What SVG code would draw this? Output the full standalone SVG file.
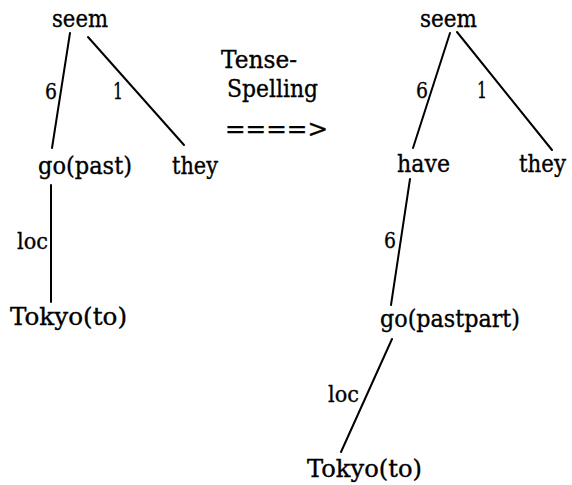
<svg xmlns="http://www.w3.org/2000/svg" width="572" height="485" viewBox="0 0 572 485">
  <style>
    text { font-family: 'DejaVu Serif', serif; fill: #000; stroke: #000; stroke-width: 0.35px; }
    .node { font-size: 24px; }
    .lbl { font-size: 23px; }
    .edge { stroke: #000; stroke-width: 2; stroke-linecap: round; fill: none; }
  </style>
  <rect width="572" height="485" fill="#fff"/>

  <!-- connectors -->
  <g id="connectors">
    <!-- left tree -->
    <line class="edge" x1="70" y1="33" x2="52" y2="148"/>
    <line class="edge" x1="88" y1="37" x2="184" y2="145"/>
    <line class="edge" x1="51" y1="185" x2="51" y2="302"/>
    <!-- right tree -->
    <line class="edge" x1="450" y1="33" x2="413" y2="148"/>
    <line class="edge" x1="457" y1="32" x2="552" y2="150"/>
    <line class="edge" x1="410" y1="179" x2="391" y2="305"/>
    <line class="edge" x1="392" y1="339" x2="341" y2="452"/>
  </g>

  <!-- edge labels -->
  <g id="edge-labels">
    <text class="lbl" x="45" y="99" textLength="12" lengthAdjust="spacingAndGlyphs">6</text>
    <text class="lbl" x="113" y="99" textLength="10" lengthAdjust="spacingAndGlyphs">1</text>
    <text class="lbl" x="17" y="249" textLength="31" lengthAdjust="spacingAndGlyphs">loc</text>
    <text class="lbl" x="416" y="98" textLength="12" lengthAdjust="spacingAndGlyphs">6</text>
    <text class="lbl" x="477" y="98" textLength="10" lengthAdjust="spacingAndGlyphs">1</text>
    <text class="lbl" x="384" y="248" textLength="12" lengthAdjust="spacingAndGlyphs">6</text>
    <text class="lbl" x="328" y="402" textLength="31" lengthAdjust="spacingAndGlyphs">loc</text>
  </g>

  <!-- left tree nodes -->
  <g id="l-seem"><text class="node" x="52" y="27" textLength="56" lengthAdjust="spacingAndGlyphs">seem</text></g>
  <g id="l-go"><text class="node" x="38" y="174" textLength="94" lengthAdjust="spacingAndGlyphs">go(past)</text></g>
  <g id="l-they"><text class="node" x="172" y="174" textLength="46" lengthAdjust="spacingAndGlyphs">they</text></g>
  <g id="l-tokyo"><text class="node" x="10" y="325" textLength="117" lengthAdjust="spacingAndGlyphs">Tokyo(to)</text></g>

  <!-- transformation -->
  <g id="rule">
    <text class="node" x="221" y="68" textLength="76" lengthAdjust="spacingAndGlyphs">Tense-</text>
    <text class="node" x="227" y="97" textLength="91" lengthAdjust="spacingAndGlyphs">Spelling</text>
    <text class="node" x="225" y="137" textLength="103" lengthAdjust="spacingAndGlyphs">====&gt;</text>
  </g>

  <!-- right tree nodes -->
  <g id="r-seem"><text class="node" x="420" y="27" textLength="57" lengthAdjust="spacingAndGlyphs">seem</text></g>
  <g id="r-have"><text class="node" x="397" y="172" textLength="53" lengthAdjust="spacingAndGlyphs">have</text></g>
  <g id="r-they"><text class="node" x="519" y="172" textLength="47" lengthAdjust="spacingAndGlyphs">they</text></g>
  <g id="r-go"><text class="node" x="380" y="327" textLength="140" lengthAdjust="spacingAndGlyphs">go(pastpart)</text></g>
  <g id="r-tokyo"><text class="node" x="307" y="477" textLength="115" lengthAdjust="spacingAndGlyphs">Tokyo(to)</text></g>
</svg>
